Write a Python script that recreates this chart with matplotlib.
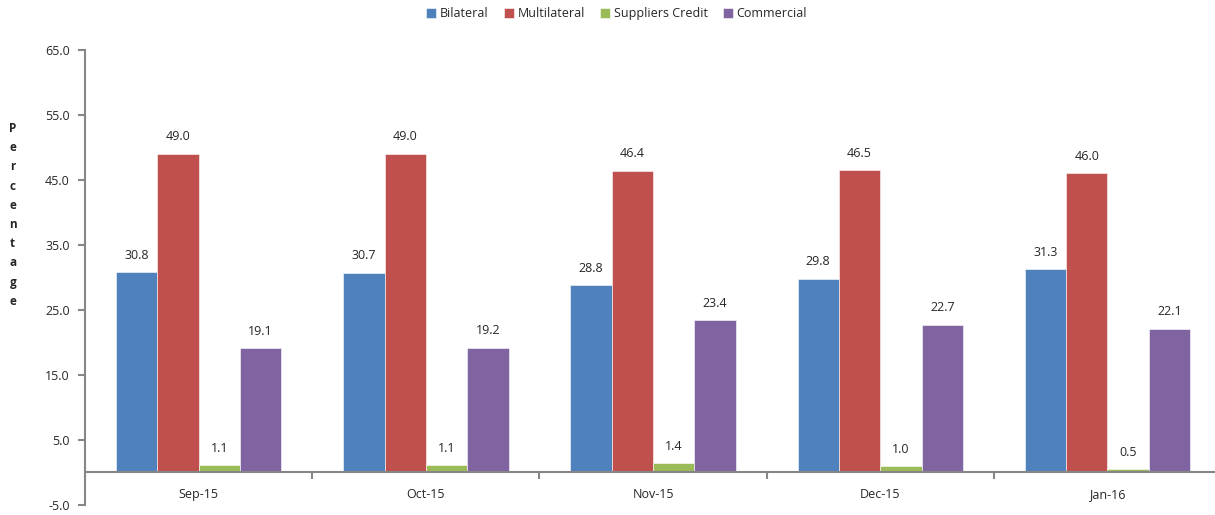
import matplotlib.pyplot as plt
import numpy as np

plt.rcParams['font.family'] = ['Open Sans', 'DejaVu Sans']

months = ["Sep-15", "Oct-15", "Nov-15", "Dec-15", "Jan-16"]
bilateral = [30.8, 30.7, 28.8, 29.8, 31.3]
multilateral = [49.0, 49.0, 46.4, 46.5, 46.0]
suppliers_credit = [1.1, 1.1, 1.4, 1.0, 0.5]
commercial = [19.1, 19.2, 23.4, 22.7, 22.1]

series = [
    ("Bilateral", bilateral, "#4F81BD"),
    ("Multilateral", multilateral, "#C0504D"),
    ("Suppliers Credit", suppliers_credit, "#9BBB59"),
    ("Commercial", commercial, "#8064A2"),
]

fig = plt.figure(figsize=(12.15, 5.15), dpi=100)
ax = fig.add_axes([0.07, 0.0194, 0.935, 0.884])

x = np.arange(len(months))
width = 0.182
gray = "#868686"
txt = "#262626"

for i, (name, vals, color) in enumerate(series):
    pos = x + (i - 1.5) * width
    bars = ax.bar(pos, vals, width, color=color, label=name,
                  edgecolor="white", linewidth=0.4)
    for b, v in zip(bars, vals):
        ax.text(b.get_x() + b.get_width() / 2, v + 1.6, f"{v:.1f}",
                ha="center", va="bottom", fontsize=9, color=txt)

ax.set_xlim(-0.5, len(months) - 0.5)
ax.set_ylim(-5, 65)
ax.set_yticks(np.arange(-5, 66, 10))
ax.set_yticklabels([f"{t:.1f}" for t in np.arange(-5, 66, 10)])

ax.set_xticks(x)
ax.set_xticklabels(months)
ax.set_xticks(np.arange(0.5, len(months) - 0.5, 1), minor=True)
ax.tick_params(axis="x", which="major", length=0, pad=11, labelsize=9, labelcolor=txt)
ax.tick_params(axis="x", which="minor", length=5, width=1.5, color=gray, direction="out")
ax.tick_params(axis="y", length=5, width=1.5, color=gray, labelsize=9, labelcolor=txt, pad=6)

for side in ("top", "right"):
    ax.spines[side].set_visible(False)
ax.spines["bottom"].set_position(("data", 0))
for side in ("bottom", "left"):
    ax.spines[side].set_color(gray)
    ax.spines[side].set_linewidth(1.5)

# vertical stacked axis title
fig.text(0.0105, 0.763, "\n".join("Percentage"), ha="center", va="top",
         fontsize=8.5, fontweight="bold", linespacing=1.62, color=txt)

ax.legend(loc="upper center", bbox_to_anchor=(0.468, 1.118), ncol=4, frameon=False,
          fontsize=9, handlelength=0.8, handleheight=0.8, handletextpad=0.3,
          columnspacing=1.2, labelcolor=txt)

fig.savefig("out.png", dpi=100)
